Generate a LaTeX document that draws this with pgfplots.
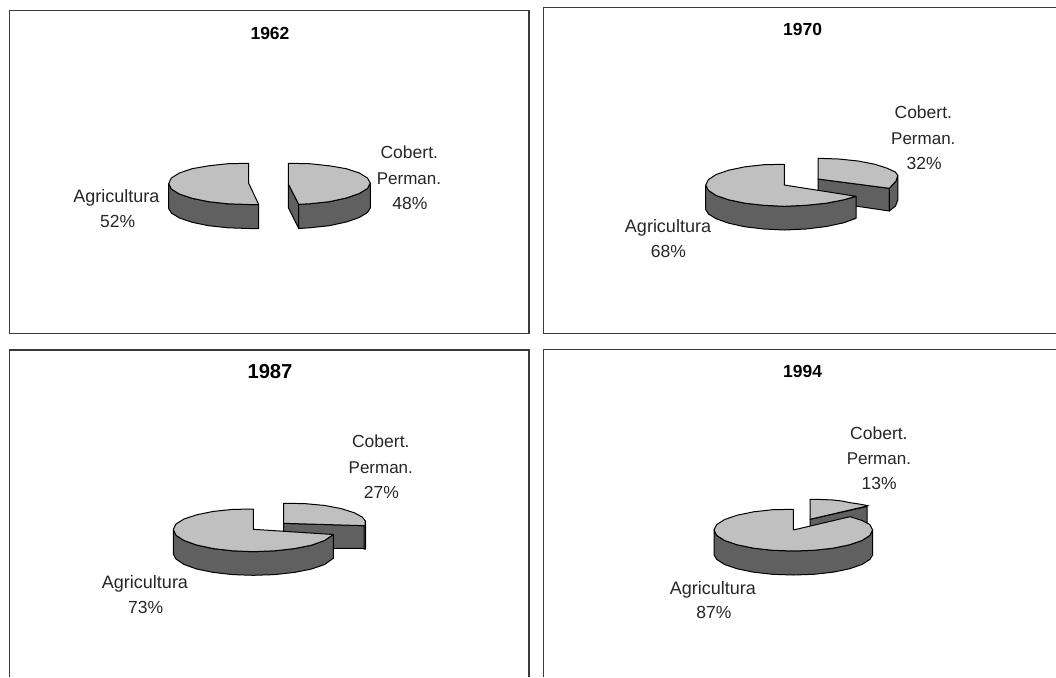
\documentclass[border=0pt]{standalone}
\usepackage{fontspec}
\setmainfont{Liberation Sans}
\usepackage{pgfplots}
\pgfplotsset{compat=1.18}
\definecolor{topface}{HTML}{C0C0C0}
\definecolor{sideface}{HTML}{606060}
\definecolor{framecol}{HTML}{3A3A3A}
\definecolor{txt}{HTML}{262626}
\pgfplotsset{
  top/.style={fill=topface,draw=black,line width=1pt,line join=round},
  side/.style={fill=sideface,draw=black,line width=1pt,line join=round},
  frame/.style={draw=framecol,line width=1.2pt},
}
\tikzset{
  lab/.style={anchor=base,inner sep=0pt,text=txt,font=\fontsize{17.5}{21}\selectfont},
  agr/.style={lab,font=\fontsize{18}{21}\selectfont},
  per/.style={lab,font=\fontsize{17}{21}\selectfont},
  ttl/.style={anchor=base,inner sep=0pt,text=black,font=\fontsize{17.5}{21}\selectfont\bfseries},
}
\begin{document}
\begin{tikzpicture}
\useasboundingbox (0,0) rectangle (1056pt,677pt);
\begin{axis}[
    at={(0,0)}, anchor=south west,
    scale only axis, width=1056pt, height=677pt,
    xmin=0, xmax=1056, ymin=0, ymax=677,
    y dir=reverse,
    hide axis,
]
% panel frames
\addplot[frame] coordinates {(9.4,10.8) (529,10.8) (529,333.3) (9.4,333.3)} --cycle;
\addplot[frame] coordinates {(1056,7.3) (543.7,7.3) (543.7,333.3) (1056,333.3)};
\addplot[frame] coordinates {(9.4,677) (9.4,350) (529,350) (529,677)};
\addplot[frame] coordinates {(543.7,677) (543.7,349.7) (1056,349.7)};

% 1962, Agricultura 52
\addplot[side] coordinates {(168.7,183.5) (171.4,189) (179.4,194) (192.1,198.3) (208.7,201.7) (228,203.8) (248.7,204.5) (258.7,204.5)
  (258.7,228.5) (248.7,228.5) (228,227.8) (208.7,225.7) (192.1,222.3) (179.4,218) (171.4,213) (168.7,208.5)} --cycle;
\addplot[top] coordinates {(248.7,163.3) (228,163.7) (208.7,165.8) (192.1,168.7) (179.4,173) (171.4,178) (168.7,183.5) (171.4,189)
  (179.4,194) (192.1,198.3) (208.7,201.7) (228,203.8) (248.7,204.5) (258.7,204.5) (248.7,183.3)} --cycle;
% 1962, Cobert. Perman. 48
\addplot[side] coordinates {(288.3,184) (298.7,204.3) (298.7,228.5) (288.3,207.5)} --cycle;
\addplot[side] coordinates {(370.3,183) (367.5,188.5) (359.3,193.5) (346.3,198) (329.3,201.7) (309.5,203.8) (298.7,204.3)
  (298.7,228.5) (309.5,227.8) (329.3,225.7) (346.3,222) (359.3,217.5) (367.5,212.5) (370.3,208)} --cycle;
\addplot[top] coordinates {(288.3,163.3) (309.5,163.7) (329.3,165.8) (346.3,168.7) (359.3,173) (367.5,178) (370.3,183) (367.5,188.5)
  (359.3,193.5) (346.3,198) (329.3,201.7) (309.5,203.8) (298.7,204.3) (288.3,184)} --cycle;

% 1970, Cobert. Perman. 32
\addplot[side] coordinates {(818,179) (889.3,188.3) (889.3,211) (818,200.5)} --cycle;
\addplot[side] coordinates {(897.8,175.5) (896,181) (889.3,188.3) (889.3,211) (895.5,206) (897.8,200)} --cycle;
\addplot[top] coordinates {(818,158.3) (838.7,159) (858,161) (874.6,164.2) (887.3,168.3) (895.3,172) (897.8,175.5) (896,181) (889.3,188.3) (818,179)} --cycle;
% 1970, Agricultura 68
\addplot[side] coordinates {(705.7,185) (708.4,190.4) (716.2,195.5) (728.7,199.8) (745,203.2) (763.9,205.3) (784.3,206.3) (806,205.3) (826.3,203.2) (843.7,199.8) (856,196.3)
  (856,218.3) (843.7,222.8) (826.3,226.5) (806,229) (784.3,230) (763.9,229) (745,226.8) (728.7,223.2) (716.2,218.8) (708.4,214) (705.7,209.5)} --cycle;
\addplot[top] coordinates {(784.3,164.3) (763.9,164.7) (745,166.8) (728.7,170.2) (716.2,174.5) (708.4,179.6) (705.7,185) (708.4,190.4) (716.2,195.5) (728.7,199.8)
  (745,203.2) (763.9,205.3) (784.3,206.3) (806,205.3) (826.3,203.2) (843.7,199.8) (856,196.3) (784.3,185)} --cycle;

% 1987, Cobert. Perman. 27
\addplot[side] coordinates {(283.7,523.3) (365,525.7) (365,548.5) (283.7,548)} --cycle;
\addplot[side] coordinates {(364,525.7) (365.5,521) (365.5,549) (364,549)} --cycle;
\addplot[top] coordinates {(283.7,503.3) (304.7,503.6) (324.4,505.4) (341.2,508.6) (354.1,512.7) (362.2,517) (365.3,521) (365,525.7) (283.7,523.3)} --cycle;
% 1987, Agricultura 73
\addplot[side] coordinates {(173.3,529.5) (176,535.3) (184,540.5) (196.7,545) (213.3,548.6) (232.6,550.8) (253.3,551.7) (274.6,550.8) (294.5,548.6) (311.5,545.2) (324.6,540.5) (333.3,534.5)
  (333.3,558.3) (324.6,564.5) (311.5,569) (294.5,572.4) (274.6,574.6) (253.3,575.3) (232.6,574.6) (213.3,572.4) (196.7,569) (184,564.5) (176,559) (173.3,554)} --cycle;
\addplot[top] coordinates {(253.3,509) (232.6,509.4) (213.3,511.4) (196.7,514.8) (184,519) (176,524) (173.3,529.5) (176,535.3) (184,540.5) (196.7,545) (213.3,548.6) (232.6,550.8) (253.3,551.7)
  (274.6,550.8) (294.5,548.6) (311.5,545.2) (324.6,540.5) (333.3,534.5) (253.3,529.3)} --cycle;

% 1994, Cobert. Perman. 13
\addplot[side] coordinates {(810,519.3) (867,506.5) (867,532) (810,545)} --cycle;
\addplot[top] coordinates {(810,499.3) (822,499.5) (833,500) (842,501) (850,502.7) (859,504) (868.3,505.7) (810,519.3)} --cycle;
% 1994, Agricultura 87
\addplot[side] coordinates {(714,530) (716.7,535.4) (724.6,540.5) (737.2,544.8) (753.7,548.2) (772.8,550.3) (793.3,551) (813.8,550.3) (833,548.2) (849.4,544.8) (862,540.5) (869.9,535.4) (872.6,530)
  (872.6,555) (869.9,559.4) (862,564.5) (849.4,568.8) (833,572.2) (813.8,574.3) (793.3,575) (772.8,574.3) (753.7,572.2) (737.2,568.8) (724.6,564.5) (716.7,559.4) (714,555)} --cycle;
\addplot[top] coordinates {(793.3,509.3) (772.8,509.7) (753.7,511.8) (737.2,515.2) (724.6,519.5) (716.7,524.6) (714,530) (716.7,535.4) (724.6,540.5) (737.2,544.8) (753.7,548.2) (772.8,550.3) (793.3,551)
  (813.8,550.3) (833,548.2) (849.4,544.8) (862,540.5) (869.9,535.4) (872.6,530) (869.9,524.6) (862,520.5) (850,516.7) (793.3,530)} --cycle;

% texts
\node[ttl] at (axis cs:270,39.2) {1962};
\node[lab] at (axis cs:409.3,158.3) {Cobert.};
\node[per] at (axis cs:409,184) {Perman.};
\node[lab] at (axis cs:410,209) {48\%};
\node[agr] at (axis cs:116.3,202.3) {Agricultura};
\node[lab] at (axis cs:117.6,227.7) {52\%};

\node[ttl] at (axis cs:802.7,35.7) {1970};
\node[lab] at (axis cs:923.3,118.7) {Cobert.};
\node[per] at (axis cs:923.3,144.2) {Perman.};
\node[lab] at (axis cs:924.2,169.2) {32\%};
\node[agr] at (axis cs:668,232.3) {Agricultura};
\node[lab] at (axis cs:668.4,257.3) {68\%};

\node[ttl,font=\fontsize{20.2}{24}\selectfont\bfseries] at (axis cs:270,378.7) {1987};
\node[lab] at (axis cs:380.8,447.7) {Cobert.};
\node[per] at (axis cs:380.8,473.3) {Perman.};
\node[lab] at (axis cs:381.3,498.3) {27\%};
\node[agr] at (axis cs:145,588.7) {Agricultura};
\node[lab] at (axis cs:145.7,613.3) {73\%};

\node[ttl] at (axis cs:802.7,377.3) {1994};
\node[lab] at (axis cs:878.9,439.3) {Cobert.};
\node[per] at (axis cs:878.9,464.7) {Perman.};
\node[lab] at (axis cs:879.2,489.7) {13\%};
\node[agr] at (axis cs:712.8,594) {Agricultura};
\node[lab] at (axis cs:713.8,618.7) {87\%};
\end{axis}
\end{tikzpicture}
\end{document}
